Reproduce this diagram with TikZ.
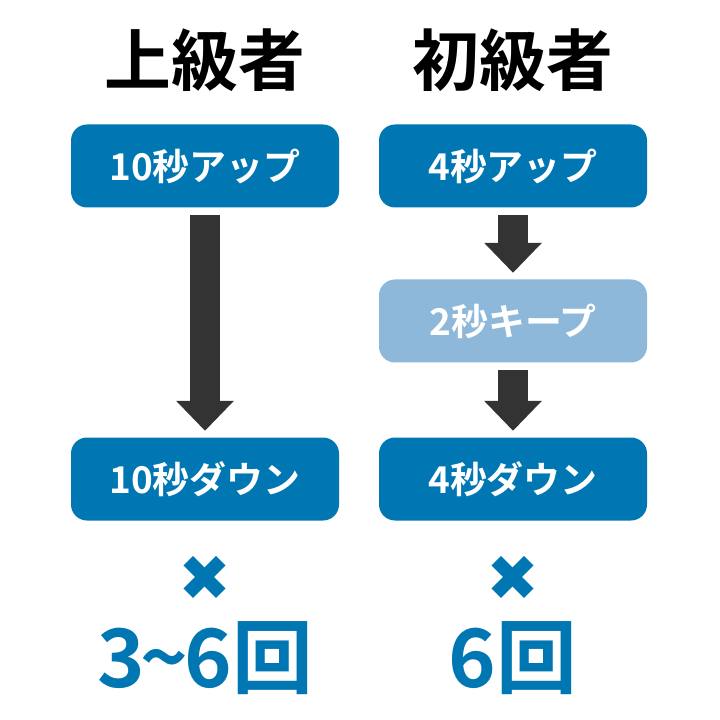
\documentclass[tikz,border=0pt]{standalone}
\usepackage{fontspec}
\setmainfont{Noto Sans CJK JP}[BoldFont={Noto Sans CJK JP Bold}]
\newfontfamily\symfont{DejaVu Sans}
\usetikzlibrary{arrows.meta}
\definecolor{stepblue}{HTML}{0077B3}
\definecolor{keepblue}{HTML}{8DB8DA}
\definecolor{arrowgray}{HTML}{333333}
\begin{document}
\begin{tikzpicture}[y=-1cm]
      \tikzset{stepbox/.style={rectangle, rounded corners=0.16cm, fill=stepblue, text=white, minimum width=2.68cm, minimum height=0.83cm, font=\bfseries\fontsize{10.5pt}{12pt}\selectfont},
               keepbox/.style={stepbox, fill=keepblue},
               title/.style={font=\bfseries\fontsize{19pt}{22pt}\selectfont},
               times/.style={text=stepblue, font=\symfont\fontsize{18pt}{20pt}\selectfont},
               count/.style={text=stepblue, font=\bfseries\fontsize{23pt}{26pt}\selectfont},
               fatarrow/.style={draw=arrowgray, line width=0.3cm, -{Triangle[width=0.56cm, length=0.3cm]}, arrowgray, shorten <=0.07cm, shorten >=0.06cm}}
      \useasboundingbox (0,0) rectangle (7.2,7.2);

      % advanced
      \node[title] (advtitle) at (2.05,0.6) {上級者};
      \node[stepbox] (advup) at (2.05,1.66) {10秒アップ};
      \node[stepbox] (advdown) at (2.05,4.79) {10秒ダウン};
      \node[times] (advtimes) at (2.05,5.78) {✖};
      \node[count] (advcount) at (2.05,6.58) {3\kern-0.05em\textasciitilde\kern-0.05em 6回};
      \draw[fatarrow] (advup) -- (advdown);

      % beginner
      \node[title] (begtitle) at (5.13,0.6) {初級者};
      \node[stepbox] (begup) at (5.13,1.66) {4秒アップ};
      \node[keepbox] (begkeep) at (5.13,3.21) {2秒キープ};
      \node[stepbox] (begdown) at (5.13,4.79) {4秒ダウン};
      \node[times] (begtimes) at (5.13,5.78) {✖};
      \node[count] (begcount) at (5.13,6.58) {6回};
      \draw[fatarrow] (begup) -- (begkeep);
      \draw[fatarrow] (begkeep) -- (begdown);
\end{tikzpicture}
\end{document}
